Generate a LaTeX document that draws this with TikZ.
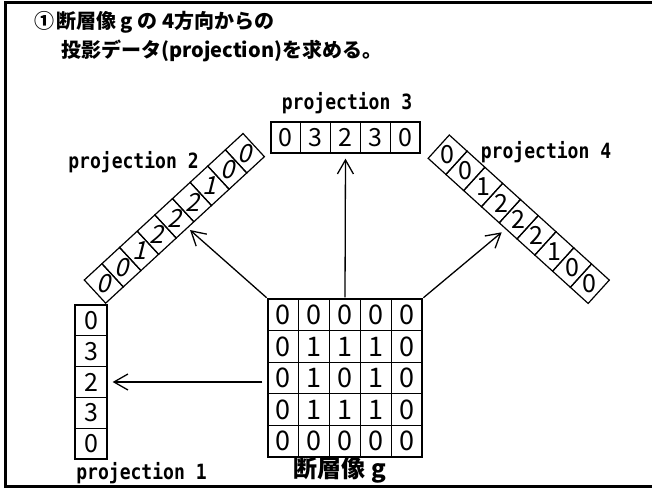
\documentclass[tikz,border=0pt]{standalone}
\usepackage{fontspec}
\setmainfont{Noto Sans CJK JP}
\newfontfamily\jp{Noto Sans CJK JP}
\newfontfamily\slantjp[FakeSlant=0.25]{Noto Sans CJK JP}
\newfontfamily\monob[FakeStretch=0.86]{DejaVu Sans Mono}
\usetikzlibrary{arrows.meta}
\tikzset{
  gcell/.style={draw, line width=1.3pt, minimum width=30.8pt, minimum height=31.6pt, inner sep=0pt, font=\jp\fontsize{27}{27}\selectfont},
  p1cell/.style={draw, line width=1.3pt, minimum width=32pt, minimum height=30.8pt, inner sep=0pt, font=\jp\fontsize{25}{25}\selectfont},
  p3cell/.style={draw, line width=1.3pt, minimum width=29.8pt, minimum height=31pt, inner sep=0pt, font=\jp\fontsize{25}{25}\selectfont},
  stripcell/.style={line width=1.2pt},
  sdigA/.style={inner sep=0pt, font=\slantjp\fontsize{25}{25}\selectfont},
  sdigB/.style={inner sep=0pt, font=\jp\fontsize{25}{25}\selectfont},
  plabel/.style={inner sep=0pt, font=\monob\bfseries\fontsize{21}{21}\selectfont},
  titletext/.style={inner sep=0pt, anchor=west, font=\jp\bfseries\fontsize{20}{20}\selectfont},
  arr/.style={-{Straight Barb[length=14pt,width=16pt]}, line width=1.3pt},
}
\begin{document}
\begin{tikzpicture}[x=1pt,y=-1pt]
\useasboundingbox (0,0) rectangle (652,488);
% frame
\draw[line width=3pt] (652,2.5) -- (5.5,2.5) -- (5.5,486.5) -- (652,486.5);
% title
\node[titletext] (title1) at (34,22) {①\kern2pt 断層像 g の 4方向からの};
\node[titletext] (title2) at (61,51) {投影データ(projection)を求める。};
% image grid
\foreach \row [count=\r] in {{0,0,0,0,0},{0,1,1,1,0},{0,1,0,1,0},{0,1,1,1,0},{0,0,0,0,0}} {
  \foreach \v [count=\c] in \row {
    \node[gcell] (g-\r-\c) at ({268+30.8*(\c-0.5)},{299+31.6*(\r-0.5)}) {\v};
  }
}
\node[inner sep=0pt, font=\jp\bfseries\fontsize{24}{24}\selectfont] (glabel) at (340,470) {断層像 g};
% projection 1
\foreach \v [count=\i] in {0,3,2,3,0} {
  \node[p1cell] (p1-\i) at (91,{305+30.8*(\i-0.5)}) {\v};
}
\node[plabel] (l1) at (141.5,473) {projection 1};
% projection 3
\foreach \v [count=\i] in {0,3,2,3,0} {
  \node[p3cell] (p3-\i) at ({271+29.8*(\i-0.5)},137.5) {\v};
}
\node[plabel] (l3) at (347,103) {projection 3};
% projection 2
\begin{scope}[shift={(84.3,280)}, rotate=42.7]
  \foreach \v [count=\i] in {0,0,1,2,2,2,1,0,0} {
    \draw[stripcell] ({24*(\i-1)},0) rectangle ({24*\i},31.5);
    \node[sdigA] (p2-\i) at ({24*(\i-0.5)},15.75) {\v};
  }
\end{scope}
\node[plabel] (l2) at (133.5,162) {projection 2};
% projection 4
\begin{scope}[shift={(449.3,135)}, rotate=-42.2]
  \foreach \v [count=\i] in {0,0,1,2,2,2,1,0,0} {
    \draw[stripcell] ({24*(\i-1)},0) rectangle ({24*\i},31.5);
    \node[sdigB] (p4-\i) at ({24*(\i-0.5)},15.75) {\v};
  }
\end{scope}
\node[plabel] (l4) at (546,152) {projection 4};
% arrows
\coordinate (t2) at (190,230);
\coordinate (t4) at (501.7,232.3);
\draw[arr, shorten <=1pt] (g-1-1.north west) -- (t2);
\draw[arr, shorten <=1pt] (g-1-5.north east) -- (t4);
\draw[arr, shorten <=1pt, shorten >=5pt] (g-1-3.north) -- (p3-3.south);
\draw[arr, shorten <=5pt, shorten >=5pt] (g-3-1.west |- p1-3.east) -- (p1-3.east);
\end{tikzpicture}
\end{document}
